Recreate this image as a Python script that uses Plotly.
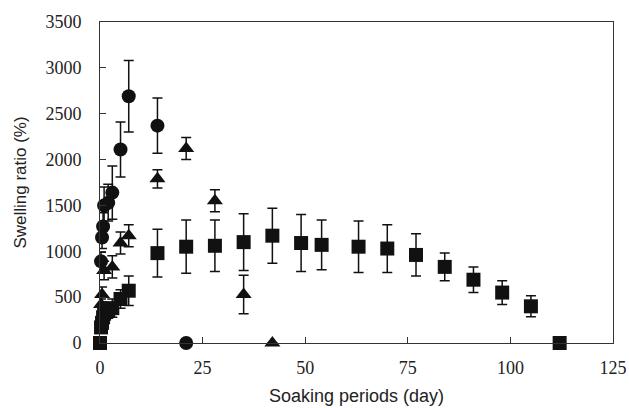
import plotly.graph_objects as go

# Circles series
circle_days = [0.25, 0.5, 0.75, 1, 2, 3, 5, 7, 14, 21]
circle_ratio = [890, 1150, 1270, 1500, 1530, 1640, 2110, 2690, 2370, 0]
circle_err = [100, 120, 150, 200, 200, 290, 300, 390, 300, 0]

# Triangles series
tri_days = [0.25, 0.5, 1, 3, 5, 7, 14, 21, 28, 35, 42]
tri_ratio = [420, 530, 790, 830, 1090, 1170, 1790, 2120, 1550, 530, 0]
tri_err = [60, 80, 100, 120, 120, 120, 100, 120, 120, 210, 0]

# Squares series
sq_days = [0, 0.25, 0.5, 0.75, 1, 2, 3, 5, 7, 14, 21, 28, 35, 42, 49, 54,
           63, 70, 77, 84, 91, 98, 105, 112]
sq_ratio = [0, 170, 220, 280, 320, 350, 380, 480, 570, 980, 1050, 1060, 1100,
            1170, 1090, 1070, 1050, 1030, 960, 830, 690, 550, 400, 0]
sq_err = [0, 50, 50, 60, 60, 80, 100, 100, 160, 260, 290, 280, 310, 300, 310,
          270, 280, 260, 230, 150, 140, 130, 115, 0]

x_ticks = [0, 25, 50, 75, 100, 125]
y_ticks = [0, 500, 1000, 1500, 2000, 2500, 3000, 3500]

black = "#111111"
serif = "Liberation Serif, Times New Roman, DejaVu Serif, serif"
sans = "Liberation Sans, Arial, sans-serif"


def series(x, y, e, symbol):
    return go.Scatter(
        x=x, y=y, mode="markers", cliponaxis=False,
        marker=dict(symbol=symbol, size=14, color=black, line=dict(width=0)),
        error_y=dict(type="data", array=e, visible=True, color=black,
                     thickness=1.5, width=5),
        showlegend=False,
    )


fig = go.Figure()
fig.add_trace(series(sq_days, sq_ratio, sq_err, "square"))
fig.add_trace(series(tri_days, tri_ratio, tri_err, "triangle-up"))
fig.add_trace(series(circle_days, circle_ratio, circle_err, "circle"))

fig.update_layout(
    width=629, height=408,
    margin=dict(l=100, r=16, t=22, b=65, autoexpand=False),
    paper_bgcolor="white", plot_bgcolor="white",
    font=dict(family=serif, size=17, color="#222"),
)
fig.update_xaxes(
    range=[0, 125], tickvals=x_ticks, ticks="inside", ticklen=6,
    tickcolor="#333", showline=True, linecolor="#333", linewidth=1,
    mirror=True, showgrid=False, zeroline=False, automargin=False,
    ticklabelstandoff=8,
    tickfont=dict(family=serif, size=18),
    title=dict(text="Soaking periods (day)",
               font=dict(family=sans, size=18), standoff=12),
)
fig.update_yaxes(
    range=[0, 3500], tickvals=y_ticks, ticks="inside", ticklen=6,
    tickcolor="#333", showline=True, linecolor="#333", linewidth=1,
    mirror=True, showgrid=False, zeroline=False, automargin=False,
    ticklabelstandoff=14,
    tickfont=dict(family=serif, size=18),
    title=dict(text="Swelling ratio (%)",
               font=dict(family=sans, size=17), standoff=14),
)

fig.write_html("out.html")
